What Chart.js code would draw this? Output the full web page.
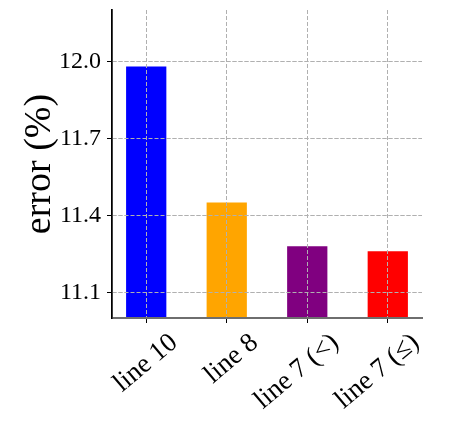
<!DOCTYPE html>
<html>
<head>
<meta charset="utf-8">
<script src="https://cdn.jsdelivr.net/npm/chart.js@4"></script>
<style>
  html, body { margin: 0; padding: 0; background: #fff; }
  #wrap { width: 449px; height: 429px; }
</style>
</head>
<body>
<div id="wrap"><canvas id="myChart"></canvas></div>
<script>
// data
const labels = ['line 10', 'line 8', 'line 7 (<)', 'line 7 (\u2264)'];
const errors = [11.98, 11.45, 11.28, 11.26];
const barColors = ['#0000ff', '#ffa500', '#800080', '#ff0000'];
const yTicks = [11.1, 11.4, 11.7, 12.0];

const serif = "'Liberation Serif', 'DejaVu Serif', serif";

// matplotlib draws the grid over the bars, so redraw it after the datasets
const gridOnTop = {
    id: 'gridOnTop',
    afterDatasetsDraw: function (chart) {
        chart.scales.x.drawGrid(chart.chartArea);
        chart.scales.y.drawGrid(chart.chartArea);
        chart.scales.x.drawBorder();
        chart.scales.y.drawBorder();
    }
};

const ctx = document.getElementById('myChart').getContext('2d');

const data = {
    datasets: [{
        data: errors.map(function (v, i) { return { x: i, y: v }; }),
        backgroundColor: barColors,
        borderWidth: 0,
        barPercentage: 0.5,
        categoryPercentage: 1.0,
    }]
};

const config = {
    type: 'bar',
    data: data,
    plugins: [gridOnTop],
    options: {
        animation: false,
        responsive: true,
        maintainAspectRatio: false,
        layout: {
            padding: { top: 10, right: 27, left: 0, bottom: 0 }
        },
        plugins: {
            legend: { display: false },
            tooltip: { enabled: false }
        },
        scales: {
            x: {
                type: 'linear',
                offset: false,
                min: -0.425,
                max: 3.425,
                afterBuildTicks: function (scale) {
                    scale.ticks = labels.map(function (l, i) { return { value: i }; });
                },
                afterFit: function (scale) {
                    scale.height = 111;
                    scale.paddingLeft = 0;
                    scale.paddingRight = 0;
                },
                ticks: {
                    autoSkip: false,
                    minRotation: 40,
                    maxRotation: 40,
                    labelOffset: 28,
                    padding: 4,
                    color: '#000',
                    font: { family: serif, size: 27 },
                    callback: function (value) { return labels[value]; }
                },
                grid: {
                    offset: false,
                    color: '#b0b0b0',
                    lineWidth: 1,
                    tickLength: 5,
                    tickColor: '#000',
                    tickWidth: 1
                },
                border: {
                    color: '#6e6e6e',
                    width: 2,
                    dash: [4, 2]
                }
            },
            y: {
                min: 11.0,
                max: 12.2,
                afterBuildTicks: function (scale) {
                    scale.ticks = yTicks.map(function (v) { return { value: v }; });
                },
                afterFit: function (scale) {
                    scale.width = 112;
                    scale.paddingTop = 0;
                    scale.paddingBottom = 0;
                },
                ticks: {
                    padding: 6,
                    color: '#000',
                    font: { family: serif, size: 24 },
                    callback: function (value) { return value.toFixed(1); }
                },
                grid: {
                    color: '#b0b0b0',
                    lineWidth: 1,
                    tickLength: 5,
                    tickColor: '#000',
                    tickWidth: 1
                },
                border: {
                    color: '#000',
                    width: 1.5,
                    dash: [4, 2]
                },
                title: {
                    display: true,
                    text: 'error (%)',
                    color: '#000',
                    padding: { top: 21, bottom: 0 },
                    font: { family: serif, size: 38, lineHeight: 1 }
                }
            }
        }
    }
};

const myChart = new Chart(ctx, config);
</script>
</body>
</html>
